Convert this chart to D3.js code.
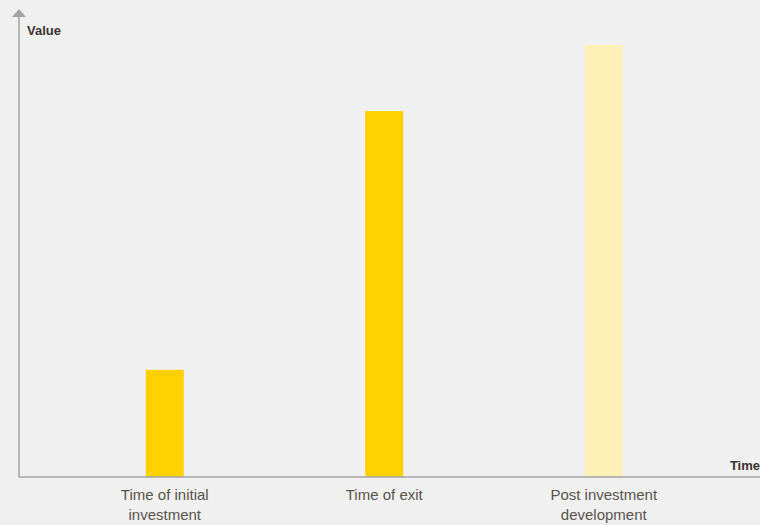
<!DOCTYPE html>
<html>
<head>
<meta charset="utf-8">
<script src="https://cdn.jsdelivr.net/npm/d3@7"></script>
<style>
  body { margin: 0; background: #f0f0f0; }
  svg { display: block; }
  .lbl { font-family: "Liberation Sans Narrow", "Arial Narrow", "Liberation Sans", sans-serif; font-size: 15px; fill: #5a534e; }
  .ttl { font-family: "Liberation Sans Narrow", "Arial Narrow", "Liberation Sans", sans-serif; font-size: 13px; font-weight: bold; fill: #3a332e; }
</style>
</head>
<body>
<div id="chart"></div>
<script>
var categories = [["Time of initial", "investment"], ["Time of exit"], ["Post investment", "development"]];
var values = [24.8, 84.7, 100];
var colors = ["#ffd100", "#ffd100", "#fff0b8"];

var w = 760, h = 525;
var x0 = 19, base = 477;

var svg = d3.select("#chart").append("svg")
    .attr("width", w)
    .attr("height", h);

svg.append("rect").attr("width", w).attr("height", h).attr("fill", "#f0f0f0");

// x 位置
var x = d3.scaleBand()
    .domain(d3.range(categories.length))
    .range([55, 713.5])
    .paddingInner(0.827)
    .paddingOuter(0.4135);

var y = d3.scaleLinear()
    .domain([0, 100])
    .range([base, 45]);

svg.selectAll("rect.bar")
    .data(values)
    .enter()
    .append("rect")
    .attr("class", "bar")
    .attr("x", function(d, i) { return x(i); })
    .attr("width", x.bandwidth())
    .attr("y", function(d) { return y(d); })
    .attr("height", function(d) { return base - y(d); })
    .attr("fill", function(d, i) { return colors[i]; });

// axes
svg.append("line")
    .attr("x1", x0).attr("x2", x0)
    .attr("y1", 16).attr("y2", base)
    .attr("stroke", "#a3a3a3").attr("stroke-width", 1.5);
svg.append("path")
    .attr("d", "M" + (x0 - 7) + ",17L" + x0 + ",9L" + (x0 + 7) + ",17Z")
    .attr("fill", "#a3a3a3");
svg.append("line")
    .attr("x1", x0).attr("x2", w)
    .attr("y1", base).attr("y2", base)
    .attr("stroke", "#a3a3a3").attr("stroke-width", 1.5);

svg.append("text").attr("class", "ttl").attr("x", 27).attr("y", 35).text("Value");
svg.append("text").attr("class", "ttl").attr("x", 760).attr("y", 470).attr("text-anchor", "end").text("Time");

var lbl = svg.selectAll("text.lbl")
    .data(categories)
    .enter()
    .append("text")
    .attr("class", "lbl")
    .attr("text-anchor", "middle")
    .attr("x", function(d, i) { return x(i) + x.bandwidth() / 2; })
    .attr("y", 500);

lbl.selectAll("tspan")
    .data(function(d) { return d; })
    .enter()
    .append("tspan")
    .attr("x", function() { return d3.select(this.parentNode).attr("x"); })
    .attr("dy", function(d, i) { return i ? 20 : 0; })
    .text(function(d) { return d; });
</script>
</body>
</html>
